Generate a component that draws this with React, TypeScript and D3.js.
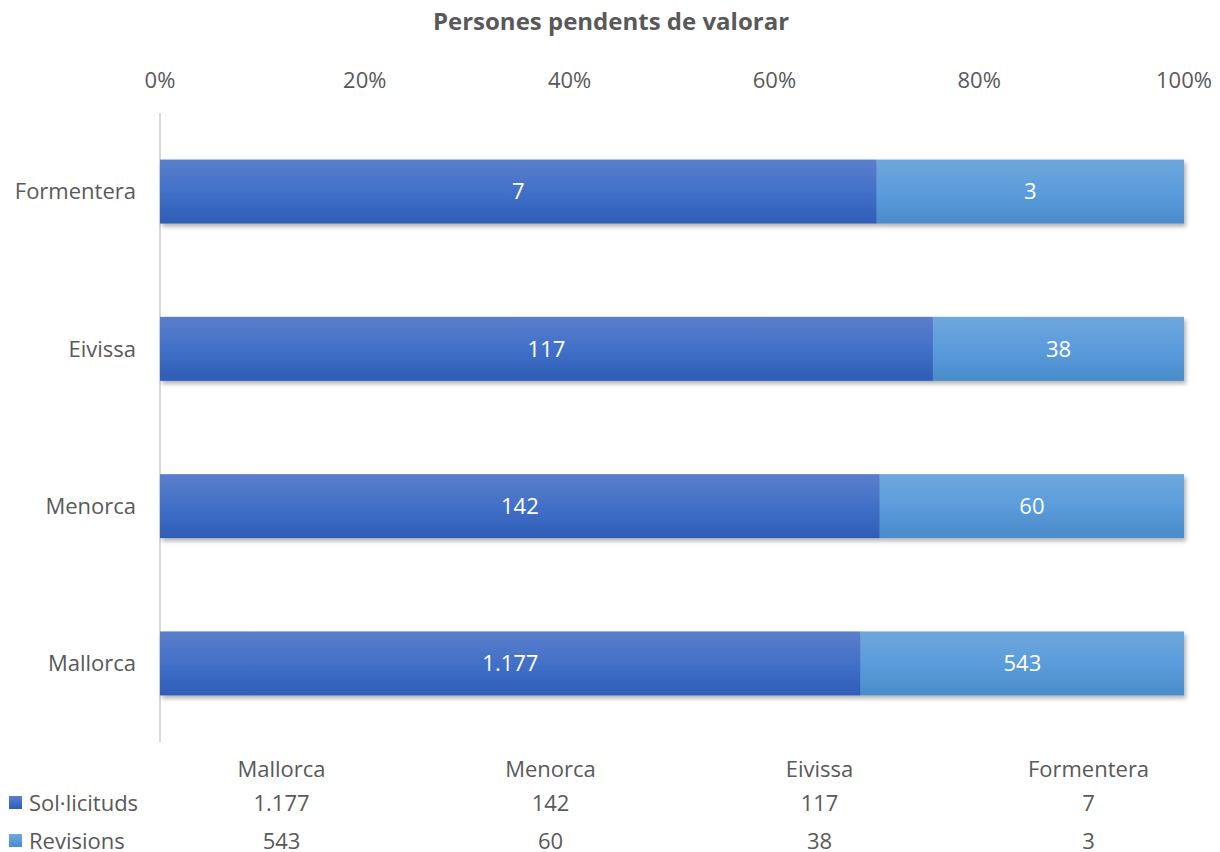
import { scaleBand, scaleLinear } from "d3"

const islands = ["Mallorca", "Menorca", "Eivissa", "Formentera"]
const solicituds = [1177, 142, 117, 7]
const revisions = [543, 60, 38, 3]
const ticks = [0, 0.2, 0.4, 0.6, 0.8, 1]

const W = 1220
const H = 852
const FONT = "'Open Sans', 'Noto Sans', sans-serif"
const TEXT = "#595959"
const FS = 22

const fmt = (n: number) => n.toLocaleString("de-DE")

export default function App() {
  const x = scaleLinear().domain([0, 1]).range([160, 1184])
  // categories listed bottom-up, so reverse for the y band
  const y = scaleBand<string>()
    .domain([...islands].reverse())
    .range([113, 742])
    .paddingInner(0.593)
    .paddingOuter(0.296)

  const col = scaleBand<string>().domain(islands).range([147, 1223])

  const series = [
    { name: "Sol·licituds", values: solicituds, grad: "gDark" },
    { name: "Revisions", values: revisions, grad: "gLight" },
  ]

  return (
    <svg width={W} height={H} style={{ position: "absolute", left: 0, top: 0, fontFamily: FONT }}>
      <defs>
        <linearGradient id="gDark" x1="0" y1="0" x2="0" y2="1">
          <stop offset="0" stopColor="#5b7fcb" />
          <stop offset="0.5" stopColor="#4270c8" />
          <stop offset="1" stopColor="#2e5db6" />
        </linearGradient>
        <linearGradient id="gLight" x1="0" y1="0" x2="0" y2="1">
          <stop offset="0" stopColor="#6fa7dc" />
          <stop offset="0.5" stopColor="#5b9cdc" />
          <stop offset="1" stopColor="#4a8bc9" />
        </linearGradient>
        <filter id="shadow" x="-5%" y="-20%" width="110%" height="160%">
          <feDropShadow dx="2" dy="3" stdDeviation="2" floodColor="#000" floodOpacity="0.3" />
        </filter>
      </defs>

      <text x={611} y={22} dy="0.35em" textAnchor="middle" fontSize={24} fontWeight={700} fill={TEXT}>
        Persones pendents de valorar
      </text>

      {/* top axis ticks */}
      {ticks.map((t) => (
        <text key={t} x={x(t)} y={80} dy="0.35em" textAnchor="middle" fontSize={FS} fill={TEXT}>
          {Math.round(t * 100)}%
        </text>
      ))}

      <line x1={160} x2={160} y1={113} y2={742} stroke="#d9d9d9" strokeWidth={2} />

      {/* bars */}
      {islands.map((isl, i) => {
        const total = solicituds[i] + revisions[i]
        let acc = 0
        const segs = series.map((s) => {
          const x0 = x(acc / total)
          acc += s.values[i]
          return { s, x0, x1: x(acc / total) }
        })
        const cy = y(isl)! + y.bandwidth() / 2
        return (
          <g key={isl}>
            <text x={136} y={cy} dy="0.35em" textAnchor="end" fontSize={FS} fill={TEXT}>
              {isl}
            </text>
            <g filter="url(#shadow)">
              {segs.map(({ s, x0, x1 }) => (
                <rect key={s.name} x={x0} y={y(isl)} width={x1 - x0} height={y.bandwidth()} fill={`url(#${s.grad})`} />
              ))}
            </g>
            {segs.map(({ s, x0, x1 }) => (
              <text key={s.name} x={(x0 + x1) / 2} y={cy} dy="0.35em" textAnchor="middle" fontSize={FS} fill="#fff">
                {fmt(s.values[i])}
              </text>
            ))}
          </g>
        )
      })}

      {/* data table */}
      {islands.map((isl) => (
        <text key={isl} x={col(isl)! + col.bandwidth() / 2} y={769} dy="0.35em" textAnchor="middle" fontSize={FS} fill={TEXT}>
          {isl}
        </text>
      ))}
      {series.map((s, r) => {
        const ty = 803 + r * 38
        return (
          <g key={s.name}>
            <rect x={9} y={ty - 7} width={13} height={13} fill={`url(#${s.grad})`} />
            <text x={29} y={ty} dy="0.35em" fontSize={FS} fill={TEXT}>
              {s.name}
            </text>
            {islands.map((isl, i) => (
              <text key={isl} x={col(isl)! + col.bandwidth() / 2} y={ty} dy="0.35em" textAnchor="middle" fontSize={FS} fill={TEXT}>
                {fmt(s.values[i])}
              </text>
            ))}
          </g>
        )
      })}
    </svg>
  )
}
